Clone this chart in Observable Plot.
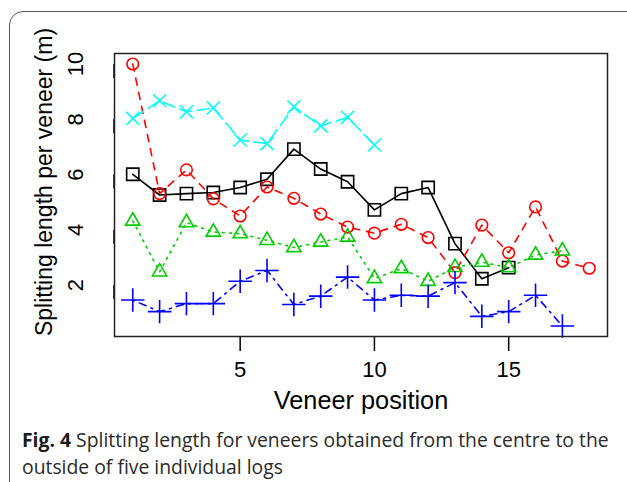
<!DOCTYPE html>
<html><head><meta charset="utf-8">
<script src="https://cdn.jsdelivr.net/npm/d3@7"></script>
<script src="https://cdn.jsdelivr.net/npm/@observablehq/plot@0.6"></script>
<style>
body{margin:0;background:#fff;width:627px;height:482px;overflow:hidden;position:relative;font-family:"Liberation Sans",Arial,sans-serif}
#frame{position:absolute;left:9px;top:11px;width:640px;height:500px;border:1.5px solid #555;border-radius:14px;box-sizing:border-box}
#chart{position:absolute;left:0;top:0}
#cap{position:absolute;left:22px;top:426px;white-space:nowrap;font-family:"Open Sans",sans-serif;font-size:19.35px;line-height:27px;color:#2a2a2a}
#cap b{color:#1a1a1a}
</style></head><body>
<div id="frame"></div>
<div id="chart"></div>
<div id="cap"><b>Fig. 4</b> Splitting length for veneers obtained from the centre to the<br>outside of five individual logs</div>
<script>
const positions = [1,2,3,4,5,6,7,8,9,10,11,12,13,14,15,16,17,18];
const blackVals = [6.01,5.26,5.31,5.35,5.53,5.83,6.92,6.2,5.74,4.72,5.31,5.53,3.5,2.23,2.63];
const redVals = [10.0,5.31,6.17,5.12,4.5,5.55,5.14,4.57,4.1,3.88,4.2,3.72,2.45,4.17,3.17,4.83,2.87,2.61];
const greenVals = [4.32,2.48,4.26,3.92,3.86,3.62,3.36,3.56,3.74,2.24,2.6,2.14,2.64,2.83,2.63,3.09,3.24];
const blueVals = [1.46,1.04,1.33,1.33,2.14,2.53,1.3,1.6,2.29,1.46,1.63,1.6,2.09,0.87,1.04,1.63,0.52];
const cyanVals = [8.03,8.67,8.27,8.41,7.25,7.12,8.45,7.76,8.07,7.07];
const xTicks = [5,10,15];
const yTicks = [2,4,6,8,10];
const xTitle = "Veneer position";
const yTitle = "Splitting length per veneer (m)";

const series = [
  {vals: blackVals, color: "#000000", dash: null, symbol: "square", r: 6.9},
  {vals: redVals, color: "#FF0000", dash: "7.2,7.2", symbol: "circle", r: 5.8},
  {vals: greenVals, color: "#00CD00", dash: "1.8,5.4", symbol: "triangle", r: 5.3},
  {vals: blueVals, color: "#0000FF", dash: "1.8,5.4,7.2,5.4", symbol: "plus", r: 7.6},
  {vals: cyanVals, color: "#00FFFF", dash: "12.6,5.4", symbol: "times", r: 6.0}
];

const marks = [];
for (const s of series) {
  const data = s.vals.map((v, i) => ({x: positions[i], y: v}));
  marks.push(Plot.line(data, {x: "x", y: "y", stroke: s.color, strokeWidth: 1.6, strokeDasharray: s.dash || undefined}));
  marks.push(Plot.dot(data, {x: "x", y: "y", symbol: s.symbol, r: s.r, stroke: s.color, fill: "none", strokeWidth: 1.6}));
}

const chart = Plot.plot({
  width: 627, height: 420,
  marginLeft: 114, marginRight: 20, marginTop: 53, marginBottom: 84,
  x: {domain: [0.32, 18.68]},
  y: {domain: [0.14, 10.38]},
  style: {fontFamily: "Liberation Sans, Arial, sans-serif", background: "transparent", color: "#000", overflow: "visible"},
  marks: [
    Plot.axisX({ticks: xTicks, tickSize: 15, tickPadding: 10, fontSize: 22, tickFormat: d => String(d), label: null, strokeWidth: 1.5}),
    Plot.axisY({ticks: yTicks, tickSize: 14, tickPadding: 25, fontSize: 22, tickFormat: d => String(d), label: null, rotate: -90, textAnchor: "middle", strokeWidth: 1.5}),
    Plot.text([xTitle], {frameAnchor: "bottom", dy: 64, fontSize: 25.3, lineAnchor: "middle", fill: "#000"}),
    Plot.text([yTitle], {frameAnchor: "left", dx: -70, dy: -13, rotate: -90, fontSize: 23, textAnchor: "middle", lineAnchor: "middle", fill: "#000"}),
    ...marks,
    Plot.frame({stroke: "#222", strokeWidth: 1.5})
  ]
});
document.getElementById("chart").appendChild(chart);
</script>
</body></html>
